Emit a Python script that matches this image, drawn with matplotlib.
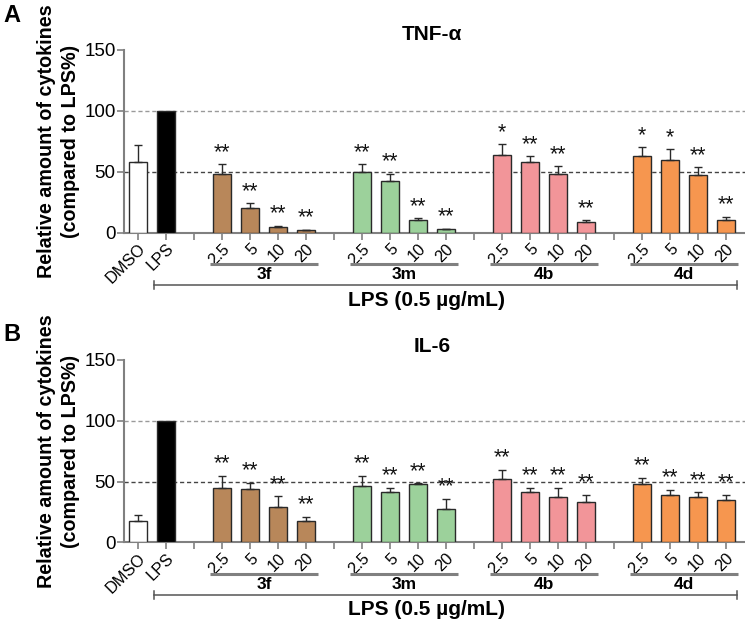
import matplotlib
matplotlib.use("Agg")
import matplotlib.pyplot as plt
import numpy as np

plt.rcParams['font.family'] = ['Liberation Sans', 'DejaVu Sans']

# ---------------- data ----------------
groups = ["3f", "3m", "4b", "4d"]
doses = ["2.5", "5", "10", "20"]
control_labels = ["DMSO", "LPS"]

tnf_control = [58.0, 100.0]
tnf_control_err = [13.7, 0.0]
tnf_3f = [48.4, 20.6, 4.4, 2.0]
tnf_3f_err = [7.9, 3.6, 1.4, 0.5]
tnf_3m = [49.5, 42.6, 10.5, 3.0]
tnf_3m_err = [6.8, 5.8, 1.3, 0.3]
tnf_4b = [63.8, 58.3, 48.4, 8.6]
tnf_4b_err = [9.0, 4.6, 6.3, 1.6]
tnf_4d = [63.2, 59.6, 47.3, 10.2]
tnf_4d_err = [6.8, 9.1, 6.6, 3.0]
tnf_stars = [["**", "**", "**", "**"], ["**", "**", "**", "**"],
             ["*", "**", "**", "**"], ["*", "*", "**", "**"]]

il6_control = [17.7, 100.0]
il6_control_err = [4.5, 0.0]
il6_3f = [44.8, 43.7, 28.9, 17.2]
il6_3f_err = [10.1, 5.5, 8.8, 3.8]
il6_3m = [46.4, 41.0, 47.8, 27.0]
il6_3m_err = [8.5, 3.8, 0.6, 9.0]
il6_4b = [51.9, 41.5, 37.4, 33.0]
il6_4b_err = [7.9, 3.3, 7.6, 6.3]
il6_4d = [48.0, 38.8, 37.4, 34.4]
il6_4d_err = [5.3, 4.6, 3.6, 4.9]
il6_stars = [["**"] * 4 for _ in range(4)]

group_colors = ["#B8875A", "#9CD19B", "#F29599", "#F6964F"]
control_colors = ["#FFFFFF", "#000000"]

# ---------------- figure ----------------
W, H = 745, 622
fig = plt.figure(figsize=(W / 100, H / 100), dpi=100)

def fx(px):
    return px / W

def fy(py):
    return 1 - py / H

def panel(letter, title, ctrl, ctrl_err, gvals, gerrs, stars, y0px, y150px, title_y, letter_y):
    ax = fig.add_axes([fx(124), fy(y0px), fx(745) - fx(124), fy(y150px) - fy(y0px)])
    ax.set_xlim(-0.5, 21.68)
    ax.set_ylim(0, 150)
    width = 0.64
    edge = "#2a2a2a"
    # control bars
    xs_ctrl = [0, 1]
    ax.bar(xs_ctrl, ctrl, width=width, color=control_colors, edgecolor=edge, linewidth=1.0, zorder=3)
    ax.errorbar([0], [ctrl[0]], yerr=[[0], [ctrl_err[0]]], fmt='none', ecolor=edge,
                elinewidth=1.0, capsize=3.2, capthick=1.0, zorder=4)
    # gray dashed references
    ax.axhline(100, color="#9a9a9a", ls=(0, (3, 2)), lw=1.0, zorder=1)
    ax.axhline(50, color="#444444", ls=(0, (3, 2)), lw=1.0, zorder=1)
    tick_pos = [0, 1]
    tick_lab = list(control_labels)
    for gi in range(4):
        start = 3 + gi * 5
        xs = [start + k for k in range(4)]
        tick_pos += [start - 1] + xs
        tick_lab += [""] + doses
        ax.bar(xs, gvals[gi], width=width, color=group_colors[gi], edgecolor=edge,
               linewidth=1.0, zorder=3)
        ax.errorbar(xs, gvals[gi], yerr=[np.zeros(4), gerrs[gi]], fmt='none', ecolor=edge,
                    elinewidth=1.0, capsize=3.2, capthick=1.0, zorder=4)
        for k in range(4):
            ax.text(xs[k], gvals[gi][k] + gerrs[gi][k] + 1.0, stars[gi][k], ha='center',
                    va='bottom', fontsize=15.5, color="#111111")
        # group underline
        ax.plot([start - 0.42, start + 3.42], [-26, -26], color="#808080", lw=2.2,
                clip_on=False, solid_capstyle='butt')
        ax.text(start + 1.5, -28.3, groups[gi], ha='center', va='top', fontsize=12.5,
                fontweight='bold')
    # LPS bracket
    ax.plot([0.57, 21.4], [-43, -43], color="#555555", lw=1.1, clip_on=False)
    ax.plot([0.57, 0.57], [-40, -46.5], color="#555555", lw=1.1, clip_on=False)
    ax.plot([21.4, 21.4], [-40, -46.5], color="#555555", lw=1.1, clip_on=False)
    ax.text(10.3, -47.5, "LPS (0.5 µg/mL)", ha='center', va='top', fontsize=15,
            fontweight='bold')

    ax.set_xticks(tick_pos)
    ax.set_xticklabels(tick_lab, rotation=45, ha='right', rotation_mode='anchor',
                       fontsize=11.8)
    ax.set_yticks([0, 50, 100, 150])
    ax.tick_params(axis='y', labelsize=13.5, direction='out', length=5, width=1.2,
                   color="#808080", pad=1)
    ax.tick_params(axis='x', direction='out', length=5, width=1.2, color="#808080", pad=1)
    for s in ["top", "right"]:
        ax.spines[s].set_visible(False)
    for s in ["left", "bottom"]:
        ax.spines[s].set_color("#808080")
        ax.spines[s].set_linewidth(1.5)
    ax.set_ylabel("Relative amount of cytokines\n(compared to LPS%)", fontsize=14.2,
                  fontweight='bold', labelpad=3, linespacing=1.35)
    fig.text(fx(3), fy(letter_y), letter, fontsize=17, fontweight='bold',
             ha='left', va='center')
    fig.text(fx(432), fy(title_y), title, fontsize=15, fontweight='bold',
             ha='center', va='center')
    return ax

panel("A", "TNF-α", tnf_control, tnf_control_err,
      [tnf_3f, tnf_3m, tnf_4b, tnf_4d],
      [tnf_3f_err, tnf_3m_err, tnf_4b_err, tnf_4d_err], tnf_stars, 232.7, 50, 35, 15)
panel("B", "IL-6", il6_control, il6_control_err,
      [il6_3f, il6_3m, il6_4b, il6_4d],
      [il6_3f_err, il6_3m_err, il6_4b_err, il6_4d_err], il6_stars, 542.3, 360, 347, 335)

fig.savefig("out.png", dpi=100)
